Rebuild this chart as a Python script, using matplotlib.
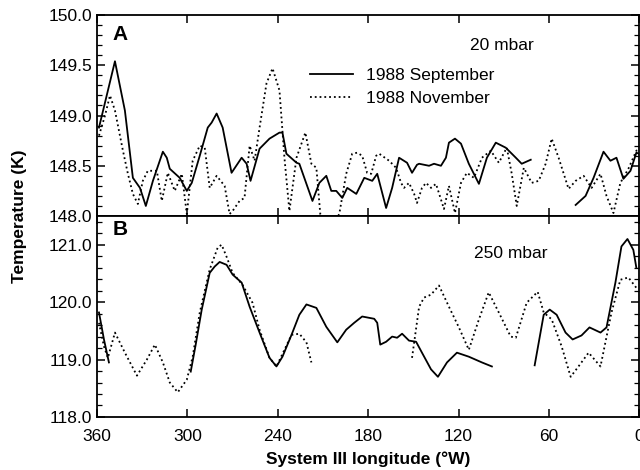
import numpy as np
import matplotlib.pyplot as plt
from matplotlib.ticker import MultipleLocator, FormatStrFormatter

plt.rcParams['font.family'] = ['Liberation Sans', 'DejaVu Sans']

nan = np.nan

# ---- panel A, 20 mbar ----
a_sep_lon = [358.7, 348.1, 341.5, 336.2, 331.5, 327.6, 322.9, 316.3, 313.7, 311.7,
             305.1, 300.4, 297.1, 291.8, 286.5, 283.9, 280.6, 276.6, 270.7, 264.0,
             260.7, 258.1, 252.1, 245.5, 238.9, 236.9, 234.3, 227.6, 225.7, 217.0,
             212.4, 207.8, 204.5, 201.2, 197.2, 193.9, 187.9, 182.6, 177.3, 174.0,
             168.1, 164.1, 159.5, 154.2, 150.9, 147.6, 146.2, 139.6, 136.3, 131.7,
             128.4, 126.4, 122.4, 118.4, 113.2, 106.5, 101.2, 95.3, 88.7, 82.0,
             78.1, 72.1, nan,
             42.3, 35.7, 30.4, 23.8, 19.2, 15.2, 10.6, 5.9, 2.0, 0.3]
a_sep_t = [148.88, 149.54, 149.05, 148.38, 148.28, 148.10, 148.35, 148.64, 148.58, 148.47,
           148.38, 148.25, 148.33, 148.60, 148.88, 148.93, 149.02, 148.88, 148.43, 148.58,
           148.52, 148.35, 148.67, 148.77, 148.83, 148.83, 148.62, 148.53, 148.52, 148.15,
           148.33, 148.40, 148.25, 148.25, 148.18, 148.28, 148.22, 148.38, 148.35, 148.42,
           148.08, 148.28, 148.58, 148.53, 148.43, 148.51, 148.52, 148.50, 148.52, 148.50,
           148.58, 148.73, 148.77, 148.72, 148.52, 148.32, 148.58, 148.73, 148.68, 148.58,
           148.52, 148.56, nan,
           148.11, 148.20, 148.38, 148.64, 148.55, 148.58, 148.37, 148.45, 148.63, 148.62]

a_nov_lon = [358.7, 354.7, 351.4, 348.1, 342.8, 339.5, 336.2, 332.9, 329.6, 326.3,
             320.3, 317.0, 313.0, 308.4, 303.7, 300.4, 296.5, 291.8, 288.5, 285.2,
             280.6, 275.3, 272.0, 270.0, 265.4, 262.1, 258.7, 255.4, 252.1, 247.5,
             243.5, 238.9, 235.6, 232.3, 227.6, 221.7, 217.7, 214.4, 211.8, 206.0,
             199.2, 194.6, 190.6, 187.3, 184.0, 180.7, 178.0, 174.7, 172.7, 166.1,
             161.5, 158.2, 156.2, 152.9, 149.5, 147.6, 144.3, 141.6, 138.3, 135.0,
             129.7, 126.4, 122.4, 118.4, 114.5, 109.8, 104.5, 98.6, 93.3, 88.0,
             84.7, 81.4, 76.7, 71.5, 66.8, 62.2, 58.2, 53.6, 47.0, 42.3,
             37.0, 31.7, 25.8, 21.8, 17.2, 12.6, 7.3, 2.0, 0.3]
a_nov_t = [148.80, 149.00, 149.20, 149.05, 148.65, 148.42, 148.22, 148.12, 148.35, 148.45,
           148.45, 148.15, 148.43, 148.25, 148.42, 148.02, 148.55, 148.70, 148.68, 148.28,
           148.40, 148.30, 148.02, 148.05, 148.15, 148.18, 148.70, 148.55, 148.88, 149.32,
           149.47, 149.25, 148.58, 148.05, 148.58, 148.83, 148.52, 148.48, 148.02, 147.85,
           148.02, 148.42, 148.62, 148.63, 148.60, 148.43, 148.42, 148.60, 148.62, 148.55,
           148.48, 148.33, 148.28, 148.33, 148.22, 148.13, 148.28, 148.33, 148.28, 148.32,
           148.07, 148.30, 148.03, 148.33, 148.43, 148.38, 148.58, 148.65, 148.53, 148.68,
           148.42, 148.10, 148.48, 148.33, 148.35, 148.52, 148.77, 148.58, 148.27, 148.35,
           148.40, 148.28, 148.42, 148.20, 148.03, 148.33, 148.47, 148.65, 148.66]

# ---- panel B, 250 mbar ----
b_sep_lon = [358.7, 355.4, 352.1, nan,
             297.8, 294.5, 290.5, 285.2, 281.9, 278.6, 274.0, 270.0, 264.0, 258.7,
             252.1, 245.5, 240.9, 236.9, 230.9, 225.7, 221.0, 214.4, 207.8, 200.5,
             194.6, 189.3, 184.0, 176.0, 174.0, 172.0, 168.1, 164.1, 160.8, 157.5,
             152.9, 148.2, 144.3, 138.3, 133.7, 127.7, 121.1, 113.2, 104.5, 97.9, nan,
             69.5, 63.5, 59.5, 54.9, 49.0, 44.3, 38.4, 33.1, 25.8, 21.8,
             15.9, 11.9, 7.9, 4.0, 2.0]
b_sep_t = [119.82, 119.35, 118.95, nan,
           118.79, 119.26, 119.87, 120.51, 120.62, 120.70, 120.65, 120.48, 120.34, 119.92,
           119.47, 119.03, 118.88, 119.05, 119.43, 119.78, 119.96, 119.90, 119.57, 119.30,
           119.52, 119.64, 119.75, 119.71, 119.64, 119.26, 119.31, 119.40, 119.38, 119.45,
           119.33, 119.31, 119.12, 118.83, 118.70, 118.95, 119.12, 119.05, 118.95, 118.88, nan,
           118.90, 119.78, 119.87, 119.78, 119.47, 119.35, 119.42, 119.56, 119.47, 119.56,
           120.34, 120.97, 121.10, 120.91, 120.60]

b_nov_lon = [358.7, 355.4, 352.8, 348.1, 341.5, 333.5, 326.9, 321.6, 316.3, 311.7,
             306.4, 300.4, 296.5, 291.8, 285.2, 279.9, 277.3, 274.0, 270.0, 263.4,
             256.8, 252.1, 245.5, 240.9, 235.6, 230.9, 225.7, 221.0, 217.7, nan,
             150.9, 146.2, 142.9, 138.3, 133.0, 126.4, 119.8, 113.2, 106.5, 100.0,
             93.3, 85.4, 82.0, 74.8, 67.5, 63.5, 58.2, 51.6, 45.6, 40.4,
             33.7, 25.8, 18.5, 12.6, 7.3, 2.0]
b_nov_t = [119.64, 119.23, 119.03, 119.47, 119.12, 118.72, 119.00, 119.26, 118.95, 118.60,
           118.43, 118.65, 119.05, 119.82, 120.57, 120.95, 121.00, 120.79, 120.51, 120.30,
           119.99, 119.52, 119.03, 118.88, 119.17, 119.43, 119.45, 119.30, 118.95, nan,
           119.03, 119.92, 120.08, 120.13, 120.29, 119.92, 119.56, 119.17, 119.70, 120.17,
           119.82, 119.40, 119.38, 119.99, 120.18, 119.82, 119.70, 119.23, 118.70, 118.88,
           119.12, 118.88, 119.82, 120.39, 120.43, 120.25]

fig = plt.figure(figsize=(6.4, 4.7), dpi=100)
axA = fig.add_axes([0.1516, 0.5404, 0.8474, 0.4276])
axB = fig.add_axes([0.1516, 0.1128, 0.8474, 0.4276])

for ax in (axA, axB):
    ax.set_xlim(360, 0)
    ax.xaxis.set_major_locator(MultipleLocator(60))
    ax.tick_params(which='both', direction='in', top=True, right=True, labelsize=12.5)
    ax.tick_params(which='major', length=6, width=1.1)
    ax.tick_params(which='minor', length=3.5, width=0.9)
    ax.tick_params(axis='x', pad=9)
    for s in ax.spines.values():
        s.set_linewidth(1.3)
    ax.yaxis.set_major_formatter(FormatStrFormatter('%.1f'))

axA.plot(a_sep_lon, a_sep_t, '-', c='k', lw=1.3, label='1988 September')
axA.plot(a_nov_lon, a_nov_t, ':', c='k', lw=1.3, label='1988 November')
axA.set_ylim(148.0, 150.0)
axA.yaxis.set_major_locator(MultipleLocator(0.5))
axA.yaxis.set_minor_locator(MultipleLocator(0.1))
axA.tick_params(axis='x', labelbottom=False)
axA.text(0.042, 0.905, 'A', transform=axA.transAxes, fontsize=15, fontweight='bold',
         ha='center', va='center')
axA.text(0.747, 0.848, '20 mbar', transform=axA.transAxes, fontsize=12.5,
         ha='center', va='center')
axA.legend(loc='upper left', bbox_to_anchor=(0.392, 0.735), frameon=False,
           fontsize=12.5, handlelength=2.5, handletextpad=0.75, labelspacing=0.45,
           borderpad=0, borderaxespad=0)

axB.plot(b_sep_lon, b_sep_t, '-', c='k', lw=1.3)
axB.plot(b_nov_lon, b_nov_t, ':', c='k', lw=1.3)
axB.set_ylim(118.0, 121.5)
axB.yaxis.set_major_locator(MultipleLocator(1.0))
axB.yaxis.set_minor_locator(MultipleLocator(0.2))
axB.text(0.042, 0.935, 'B', transform=axB.transAxes, fontsize=15, fontweight='bold',
         ha='center', va='center')
axB.text(0.762, 0.815, '250 mbar', transform=axB.transAxes, fontsize=12.5,
         ha='center', va='center')
axB.set_xlabel('System III longitude (°W)', fontsize=12.5, fontweight='bold', labelpad=5)

fig.text(0.031, 0.54, 'Temperature (K)', rotation=90, fontsize=12.5, fontweight='bold',
         ha='center', va='center')

fig.savefig('out.png')
